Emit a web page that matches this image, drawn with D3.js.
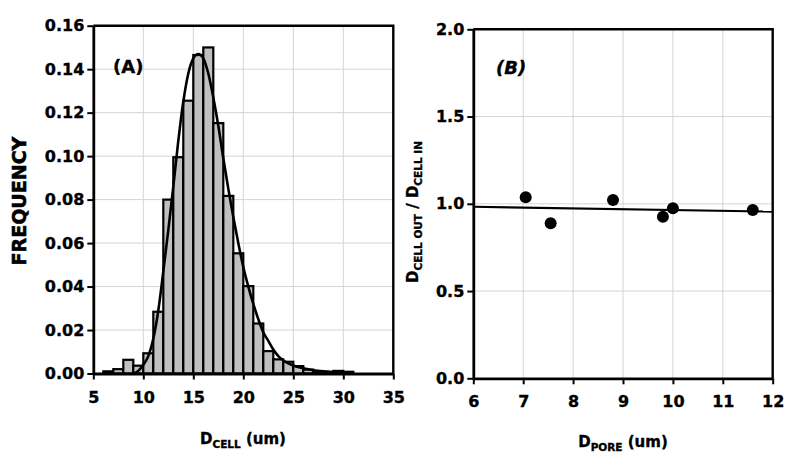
<!DOCTYPE html>
<html><head><meta charset="utf-8">
<script src="https://cdn.jsdelivr.net/npm/d3@7"></script>
<style>body{margin:0;background:#fff}svg{display:block}text{font-family:"DejaVu Sans",sans-serif;font-weight:bold;fill:#000;stroke:#000;stroke-width:0.35px}</style>
</head><body>
<script>
// Panel A: histogram of cell diameters (bin start, frequency)
const binStarts = [6,7,8,9,10,11,12,13,14,15,16,17,18,19,20,21,22,23,24,25,26,27,28,29,30];
const binFreq   = [0.001,0.002,0.0063,0.0036,0.0093,0.0284,0.080,0.0995,0.1255,0.1465,0.150,0.1152,0.0817,0.0553,0.0402,0.023,0.0103,0.0065,0.0054,0.0034,0.0018,0.001,0.0004,0.0012,0.0008];
// fitted curve
const fitX = [9.0,9.5,10,10.5,11,11.5,12,12.5,13,13.5,14,14.5,15,15.5,16,16.5,17,17.5,18,18.5,19,19.5,20,20.5,21,21.5,22,22.5,23,23.5,24,25,26,27,28,29,30,31];
const fitY = [0.000,0.0012,0.004,0.008,0.016,0.029,0.047,0.066,0.086,0.107,0.125,0.138,0.145,0.147,0.145,0.138,0.127,0.114,0.099,0.085,0.072,0.060,0.049,0.040,0.032,0.025,0.019,0.015,0.011,0.008,0.006,0.0037,0.0024,0.0015,0.001,0.0007,0.0005,0.0003];
const aXTicks = [5,10,15,20,25,30,35];
const aYTicks = [0,0.02,0.04,0.06,0.08,0.10,0.12,0.14,0.16];
// Panel B
const poreD  = [7.05,7.55,8.8,9.8,10.0,11.6];
const ratio  = [1.037,0.888,1.022,0.926,0.974,0.964];
const fitLineX = [6,12];
const fitLineY = [0.983,0.955];
const bXTicks = [6,7,8,9,10,11,12];
const bYTicks = [0,0.5,1.0,1.5,2.0];

const svg = d3.select("body").append("svg").attr("width",800).attr("height",459);

function panel(opt){
  const g = svg.append("g");
  const x = d3.scaleLinear().domain(opt.xd).range([opt.l,opt.r]);
  const y = d3.scaleLinear().domain(opt.yd).range([opt.b,opt.t]);
  g.append("g").selectAll("line").data(opt.xt.slice(1,-1)).join("line")
    .attr("x1",d=>x(d)).attr("x2",d=>x(d)).attr("y1",opt.t).attr("y2",opt.b)
    .attr("stroke","#d4d4d4").attr("stroke-width",1);
  g.append("g").selectAll("line").data(opt.yt.slice(1,-1)).join("line")
    .attr("y1",d=>y(d)).attr("y2",d=>y(d)).attr("x1",opt.l).attr("x2",opt.r)
    .attr("stroke","#d4d4d4").attr("stroke-width",1);
  return {g,x,y};
}
function axes(p,opt){
  const {g,x,y} = p;
  g.append("path").attr("d",`M${opt.l},${opt.t}H${opt.r}V${opt.b}`).attr("fill","none").attr("stroke","#000").attr("stroke-width",2.4);
  const ax = g.append("g").attr("transform",`translate(0,${opt.b})`)
    .call(d3.axisBottom(x).tickValues(opt.xt).tickFormat(opt.xf).tickSize(6).tickSizeOuter(0));
  const ay = g.append("g").attr("transform",`translate(${opt.l},0)`)
    .call(d3.axisLeft(y).tickValues(opt.yt).tickFormat(opt.yf).tickSize(6).tickSizeOuter(0));
  [ax,ay].forEach(a=>{
    a.select(".domain").attr("stroke","#000").attr("stroke-width",2.8);
    a.selectAll(".tick line").attr("stroke","#000").attr("stroke-width",2);
    a.selectAll(".tick text").style("font-size","16px").style("font-family","DejaVu Sans").style("font-weight","bold").attr("fill","#000");
  });
  ax.selectAll(".tick text").attr("dy","1.25em");
  ay.selectAll(".tick text").attr("x",-9);
}

// Panel A
const oa = {l:93.3,r:393.3,t:25.7,b:373.5,xd:[5,35],yd:[0,0.16],xt:aXTicks,yt:aYTicks,xf:d3.format("d"),yf:d3.format(".2f")};
const pa = panel(oa);
pa.g.append("g").selectAll("rect").data(binStarts).join("rect")
  .attr("x",d=>pa.x(d)).attr("width",d=>pa.x(d+1)-pa.x(d))
  .attr("y",(d,i)=>pa.y(binFreq[i])).attr("height",(d,i)=>pa.y(0)-pa.y(binFreq[i]))
  .attr("fill","#c0c0c0").attr("stroke","#000").attr("stroke-width",2.2);
pa.g.append("path").datum(fitX.map((v,i)=>[v,fitY[i]]))
  .attr("d",d3.line().x(d=>pa.x(d[0])).y(d=>pa.y(d[1])).curve(d3.curveMonotoneX))
  .attr("fill","none").attr("stroke","#000").attr("stroke-width",2.6);
axes(pa,oa);
pa.g.append("text").attr("x",113).attr("y",73).style("font-size","18px").text("(A)");
pa.g.append("text").attr("transform","translate(26,201) rotate(-90)").attr("text-anchor","middle").style("font-size","19px").style("stroke-width","0.6px").text("FREQUENCY");
const ta = pa.g.append("text").attr("x",243).attr("y",444).attr("text-anchor","middle").style("font-size","15px");
ta.append("tspan").text("D");
ta.append("tspan").attr("dy",4).style("font-size","10.5px").text("CELL");
ta.append("tspan").attr("dy",-4).text(" (um)");

// Panel B
const ob = {l:473.3,r:772.7,t:29.3,b:378.3,xd:[6,12],yd:[0,2],xt:bXTicks,yt:bYTicks,xf:d3.format("d"),yf:d3.format(".1f")};
const pb = panel(ob);
pb.g.append("line")
  .attr("x1",pb.x(fitLineX[0])).attr("y1",pb.y(fitLineY[0]))
  .attr("x2",pb.x(fitLineX[1])).attr("y2",pb.y(fitLineY[1]))
  .attr("stroke","#000").attr("stroke-width",2.2);
pb.g.append("g").selectAll("circle").data(poreD).join("circle")
  .attr("cx",d=>pb.x(d)).attr("cy",(d,i)=>pb.y(ratio[i])).attr("r",6).attr("fill","#000");
axes(pb,ob);
pb.g.append("text").attr("x",496).attr("y",74).style("font-size","18px").style("font-style","italic").text("(B)");
const tb = pb.g.append("text").attr("transform","translate(418,212) rotate(-90)").attr("text-anchor","middle").style("font-size","15px");
tb.append("tspan").text("D");
tb.append("tspan").attr("dy",4).style("font-size","10.5px").text("CELL OUT");
tb.append("tspan").attr("dy",-4).text(" / D");
tb.append("tspan").attr("dy",4).style("font-size","10.5px").text("CELL IN");
const tx = pb.g.append("text").attr("x",623).attr("y",447).attr("text-anchor","middle").style("font-size","15px");
tx.append("tspan").text("D");
tx.append("tspan").attr("dy",4).style("font-size","10.5px").text("PORE");
tx.append("tspan").attr("dy",-4).text(" (um)");
</script>
</body></html>
